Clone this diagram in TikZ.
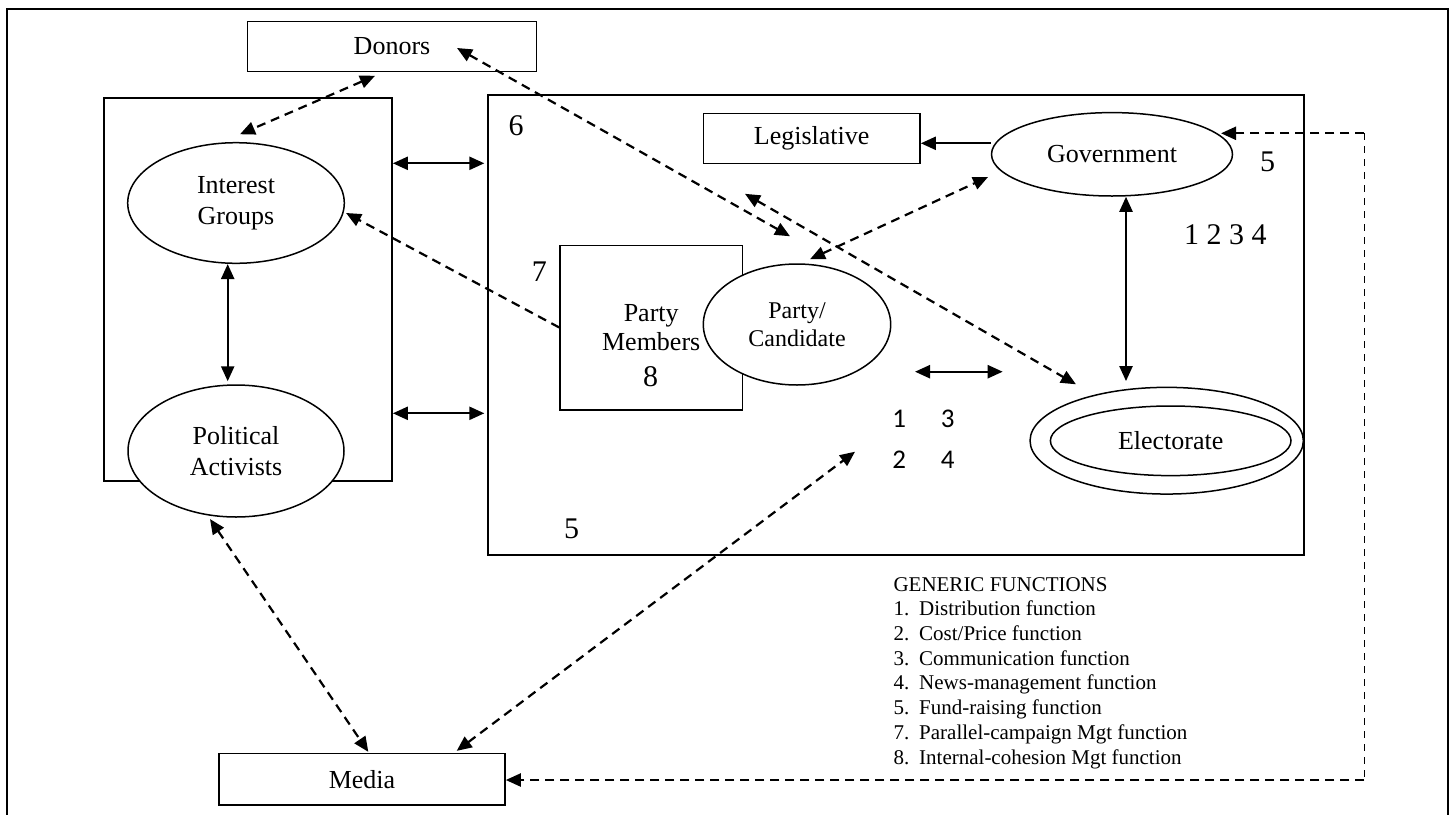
\documentclass[tikz,border=0pt]{standalone}
\usepackage{fontspec}
\setmainfont{Liberation Serif}
\newfontfamily\fnsans{Carlito}
\usetikzlibrary{shapes.geometric,arrows.meta}

\begin{document}
\begin{tikzpicture}[x=1pt,y=-1pt,
  hd/.tip={Triangle[length=15pt,width=13pt]},
  box/.style={draw,line width=1.6pt,rectangle,inner sep=0pt,fill=white,
    align=center,font=\fontsize{26}{31}\selectfont},
  frame/.style={draw,line width=1.7pt,rectangle,inner sep=0pt},
  oval/.style={draw,line width=1.5pt,ellipse,inner sep=0pt,fill=white,
    align=center,font=\fontsize{26}{31}\selectfont},
  num/.style={inner sep=0pt,font=\fontsize{30}{34}\selectfont},
  sansnum/.style={inner sep=0pt,font=\fnsans\fontsize{27}{32}\selectfont},
  both/.style={line width=2.3pt,hd-hd},
  one/.style={line width=2.3pt,-hd},
  dashboth/.style={line width=2.2pt,dash pattern=on 9pt off 6pt,hd-hd},
  dashone/.style={line width=2.2pt,dash pattern=on 9pt off 6pt,-hd},
]
\path[use as bounding box] (0,0) rectangle (1456,814);
\clip (0,0) rectangle (1456,814);

% page frame, open at the bottom
\draw[line width=1.8pt] (7,830) -- (7,9) -- (1448.3,9) -- (1448.3,830);

% containers
\node[frame,minimum width=288pt,minimum height=383pt] (grp) at (248,289.5) {};
\node[frame,minimum width=816.6pt,minimum height=460pt] (bigbox) at (896,325) {};

% outside actors
\node[box,minimum width=289pt,minimum height=50pt] (donors) at (392,46.5) {Donors};
\node[box,minimum width=286pt,minimum height=51.3pt] (media) at (362,779.3) {Media};

% interest groups and activists
\node[oval,minimum width=216.6pt,minimum height=120.6pt] (ig) at (236,203) {Interest\\Groups};
\node[oval,minimum width=216pt,minimum height=132pt] (pa) at (236,451) {Political\\Activists};

% inside the campaign box
\node[box,minimum width=216.7pt,minimum height=50pt] (legis) at (811.7,138.3) {Legislative};
\node[oval,minimum width=241pt,minimum height=83.4pt] (gov) at (1112,154.3) {Government};
\node[box,minimum width=182.3pt,minimum height=164.4pt,font=\fontsize{26}{28.4}\selectfont] (members) at (651.2,327.5) {Party\\Members};
\node[oval,minimum width=187.4pt,minimum height=121pt,font=\fontsize{24}{27.7}\selectfont] (pc) at (797,324.5) {Party/\\Candidate};
\node[oval,minimum width=273.3pt,minimum height=106.7pt] (electouter) at (1166.7,440.7) {};
\node[oval,minimum width=240.6pt,minimum height=69.6pt] (elect) at (1170.7,440.8) {Electorate};

% function numbers
\node[num] (f6) at (516,126) {6};
\node[num] (f7) at (539.3,271.7) {7};
\node[num] (f8) at (650.7,376.7) {8};
\node[num] (f5a) at (571.7,529) {5};
\node[num] (f5b) at (1267.7,161.7) {5};
\node[num] (f1234) at (1225.3,235) {1 2 3 4};
\node[sansnum] (n1) at (899.3,419.3) {1};
\node[sansnum] (n3) at (947.7,419.3) {3};
\node[sansnum] (n2) at (899.3,460) {2};
\node[sansnum] (n4) at (947.7,460) {4};

% legend
\node[anchor=north west,inner sep=0pt,align=left,font=\fontsize{21}{24.7}\selectfont] (legend) at (893.3,577)
 {GENERIC FUNCTIONS\\
  \makebox[25.7pt][l]{1.}Distribution function\\
  \makebox[25.7pt][l]{2.}Cost/Price function\\
  \makebox[25.7pt][l]{3.}Communication function\\
  \makebox[25.7pt][l]{4.}News-management function\\
  \makebox[25.7pt][l]{5.}Fund-raising function\\
  \makebox[25.7pt][l]{7.}Parallel-campaign Mgt function\\
  \makebox[25.7pt][l]{8.}Internal-cohesion Mgt function};

% solid links
\draw[both] ([xshift=-8.3pt]ig.south) -- ([xshift=-8.3pt,yshift=3pt]pa.north);
\draw[both] ([yshift=126.2pt]grp.east) -- ([xshift=-2.5pt,yshift=161.7pt]bigbox.west);
\draw[both] ([yshift=-123.8pt]grp.east) -- ([xshift=-2.5pt,yshift=-88.3pt]bigbox.west);
\draw[one] ([yshift=11pt]gov.west) -- ([yshift=-5pt]legis.east);
\coordinate (gx) at ([xshift=14pt]gov.south);
\coordinate (ex) at ([yshift=5.5pt]electouter.north);
\draw[both] (gx) -- (gx |- ex);
\coordinate (ma) at (915,371.7);
\coordinate (mb) at (1002.7,371.7);
\draw[both] (ma) -- (mb);

% dashed links
\draw[dashboth] ([shift={(-17,3.5)}]donors.south) -- ([shift={(4,-7.7)}]ig.north);
\draw[dashboth] ([shift={(65,1.5)}]donors.center) -- ([shift={(-7,-27)}]pc.north);
\draw[dashboth] ([shift={(-66.7,29.7)}]legis.south) -- ([shift={(-90.7,-2.3)}]electouter.north);
\draw[dashboth] ([shift={(13,-4)}]pc.north) -- ([shift={(-2.7,22.7)}]gov.west);
\draw[dashone] (members.west) -- ([shift={(1,10)}]ig.east);
\coordinate (mtip) at ([shift={(-44.3,-8.3)}]n2.center);
\draw[dashboth] ([shift={(94.7,-2)}]media.north) -- (mtip);
\draw[dashboth] ([shift={(-26,1.3)}]pa.south) -- ([shift={(6.3,-1)}]media.north);

% fund-raising loop from the media back to government
\coordinate (lpA) at (1364.3,133.3);
\coordinate (lpB) at (1364.3,780);
\draw[dashone] (lpA) -- ([shift={(109,-21)}]gov.center);
\draw[line width=1.5pt,dash pattern=on 7pt off 6pt] (lpA) -- (lpB);
\draw[dashone] (lpB) -- (media.east |- lpB);
\end{tikzpicture}
\end{document}
